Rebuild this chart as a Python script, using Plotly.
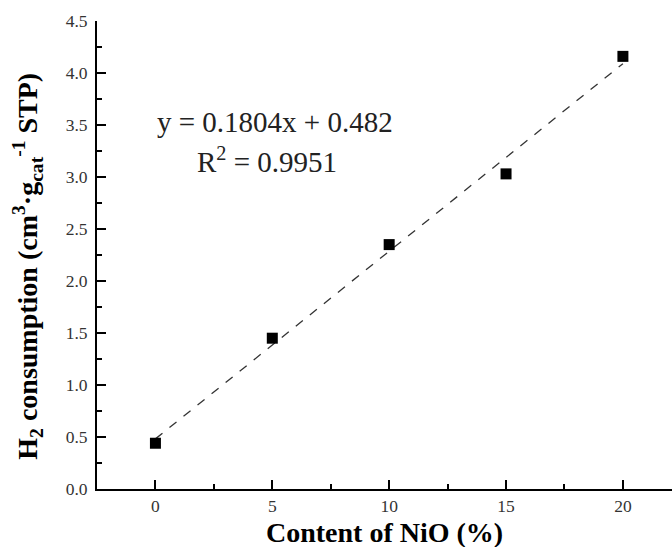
import plotly.graph_objects as go

nio_content = [0, 5, 10, 15, 20]
h2_consumption = [0.44, 1.45, 2.35, 3.03, 4.16]
slope = 0.1804
intercept = 0.482
fit_x = [0, 20]
fit_y = [slope * v + intercept for v in fit_x]

font_family = "Liberation Serif"

fig = go.Figure()
fig.add_trace(go.Scatter(x=fit_x, y=fit_y, mode="lines",
                         line=dict(color="#333333", width=1.3, dash="dash"),
                         showlegend=False, hoverinfo="skip"))
fig.add_trace(go.Scatter(x=nio_content, y=h2_consumption, mode="markers",
                         marker=dict(symbol="square", size=11, color="black"),
                         showlegend=False))

fig.add_annotation(x=5.13, y=3.53, xref="x", yref="y",
                   text="y = 0.1804x + 0.482", showarrow=False,
                   font=dict(family=font_family, size=29, color="#222222"))
fig.add_annotation(x=4.79, y=3.16, xref="x", yref="y",
                   text="R<sup>2</sup> = 0.9951", showarrow=False,
                   font=dict(family=font_family, size=29, color="#222222"))

# axis titles as annotations for exact placement
fig.add_annotation(x=-0.12, y=0.475, xref="paper", yref="paper",
                   xanchor="center", yanchor="middle", textangle=-90,
                   text="<b>H<sub>2</sub> consumption (cm<sup>3</sup>·g<sub>cat</sub><sup>-1</sup> STP)</b>",
                   showarrow=False,
                   font=dict(family=font_family, size=28, color="black"))
fig.add_annotation(x=0.5, y=-0.092, xref="paper", yref="paper",
                   xanchor="center", yanchor="middle",
                   text="<b>Content of NiO (%)</b>", showarrow=False,
                   font=dict(family=font_family, size=28, color="black"))

axis_common = dict(showline=True, linecolor="black", linewidth=2,
                   ticks="inside", ticklen=9, tickwidth=2, tickcolor="black",
                   showgrid=False, zeroline=False, mirror=False,
                   tickfont=dict(family=font_family, size=17.5, color="#333333"))

fig.update_xaxes(range=[-2.5, 22.1], tickvals=[0, 5, 10, 15, 20],
                 ticktext=["0", "5", "10", "15", "20"],
                 minor=dict(tickvals=[2.5, 7.5, 12.5, 17.5, 22.5], ticks="inside",
                            ticklen=5, tickwidth=2, tickcolor="black"),
                 ticklabelstandoff=0,
                 **axis_common)
fig.update_yaxes(range=[0, 4.5], tickvals=[0, 0.5, 1, 1.5, 2, 2.5, 3, 3.5, 4, 4.5],
                 ticktext=["0.0", "0.5", "1.0", "1.5", "2.0", "2.5", "3.0", "3.5", "4.0", "4.5"],
                 minor=dict(tickvals=[0.25, 0.75, 1.25, 1.75, 2.25, 2.75, 3.25, 3.75, 4.25],
                            ticks="inside", ticklen=5, tickwidth=2, tickcolor="black"),
                 ticklabelstandoff=4,
                 **axis_common)

fig.update_layout(width=672, height=547, plot_bgcolor="white", paper_bgcolor="white",
                  margin=dict(l=97, r=0, t=21, b=58))
fig.write_html("out.html")
